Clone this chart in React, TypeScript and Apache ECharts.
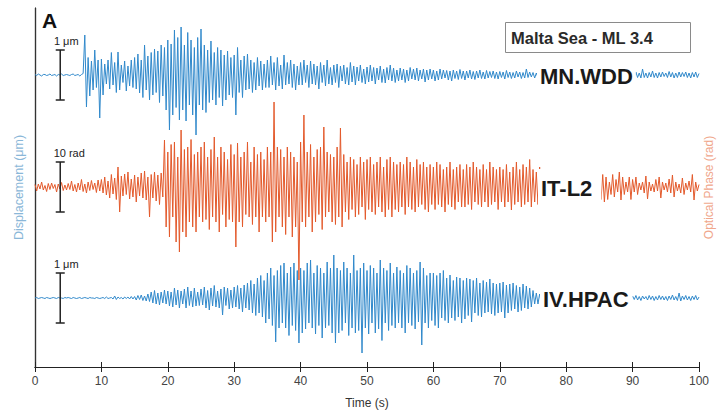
import React, { useEffect, useRef } from "react";
import * as echarts from "echarts";

// sample interval of the traces (s)
const DT = 0.25;

// MN.WDD displacement (μm), one row = 5 s
const wdd = [
  0.01,-0.01,0.02,0,-0.02,0.01,0.01,-0.01,0,0.02,-0.01,0,0.01,-0.02,0.01,0,0.02,-0.01,0,0.01,
  0,-0.01,0.01,0.02,-0.01,0,0.01,-0.02,0.01,0.03,0.8,-0.64,0.35,-0.42,0.28,-0.3,0.5,-0.25,0.3,-0.86,
  0.32,-0.4,0.22,-0.18,0.3,-0.28,0.45,-0.2,0.25,-0.35,0.46,-0.3,0.2,-0.15,0.28,-0.32,0.18,-0.22,0.3,-0.25,
  0.35,-0.28,0.42,-0.36,0.3,-0.45,0.6,-0.3,0.38,-0.5,0.45,-0.4,0.52,-0.35,0.48,-0.55,0.6,-0.42,0.55,-0.7,
  0.7,-1.1,0.62,-0.8,0.9,-0.65,0.75,-0.9,0.96,-0.7,0.6,-0.92,0.85,-0.6,0.7,-0.8,0.55,-1.2,0.75,-0.6,
  0.92,-0.7,0.6,-0.75,0.5,-0.55,0.68,-0.5,0.45,-0.6,0.55,-0.45,0.5,-0.62,0.4,-0.5,0.48,-0.4,0.35,-0.45,
  0.4,-0.8,0.55,-0.35,0.3,-0.45,0.38,-0.3,0.42,-0.28,0.3,-0.35,0.25,-0.3,0.35,-0.22,0.28,-0.3,0.22,-0.25,
  0.3,-0.25,0.38,-0.2,0.25,-0.3,0.35,-0.22,0.2,-0.28,0.4,-0.2,0.25,-0.18,0.3,-0.25,0.22,-0.3,0.18,-0.2,
  0.25,-0.2,0.3,-0.15,0.2,-0.25,0.28,-0.18,0.22,-0.2,0.18,-0.28,0.25,-0.15,0.2,-0.22,0.3,-0.18,0.15,-0.2,
  0.2,-0.15,0.22,-0.25,0.18,-0.12,0.2,-0.18,0.15,-0.2,0.25,-0.14,0.18,-0.2,0.16,-0.12,0.2,-0.15,0.12,-0.18,
  0.16,-0.14,0.2,-0.12,0.15,-0.18,0.14,-0.1,0.18,-0.15,0.12,-0.16,0.15,-0.1,0.2,-0.12,0.14,-0.15,0.1,-0.12,
  0.14,-0.1,0.12,-0.15,0.1,-0.12,0.15,-0.08,0.12,-0.1,0.14,-0.12,0.1,-0.08,0.12,-0.14,0.1,-0.1,0.12,-0.08,
  0.1,-0.12,0.08,-0.1,0.12,-0.08,0.1,-0.06,0.09,-0.1,0.08,-0.12,0.1,-0.07,0.08,-0.09,0.11,-0.07,0.08,-0.1,
  0.08,-0.06,0.1,-0.08,0.07,-0.09,0.08,-0.06,0.1,-0.07,0.06,-0.08,0.09,-0.06,0.07,-0.05,0.08,-0.07,0.06,-0.08,
  0.07,-0.05,0.06,-0.08,0.09,-0.05,0.06,-0.07,0.05,-0.06,0.08,-0.04,0.06,-0.07,0.05,-0.06,0.12,-0.05,0.06,-0.04,
  0.05,-0.06,0.04,-0.05,0.06,-0.04,0.05,-0.06,0.04,-0.05,0.06,-0.04,0.05,-0.03,0.04,-0.05,0.06,-0.04,0.03,-0.05,
  0.04,-0.05,0.06,-0.03,0.05,-0.04,0.03,-0.05,0.04,-0.06,0.05,-0.03,0.04,-0.05,0.03,-0.04,0.05,-0.03,0.04,-0.05,
  0.03,-0.04,0.05,-0.03,0.04,-0.05,0.03,-0.04,0.05,-0.03,0.04,-0.03,0.05,-0.04,0.03,-0.05,0.04,-0.03,0.05,-0.04,
  0.05,-0.04,0.06,-0.05,0.04,-0.06,0.12,-0.05,0.04,-0.06,0.05,-0.04,0.08,-0.05,0.04,-0.06,0.05,-0.04,0.06,-0.03,
  0.04,-0.05,0.07,-0.04,0.05,-0.06,0.04,-0.05,0.06,-0.04,0.05,-0.03,0.06,-0.05,0.04,-0.06,0.05,-0.04,0.06,-0.05,
  0.03,
];

// IT-L2 optical phase (rad), one row = 5 s
const itl2 = [
  0.5,-0.8,0.6,-0.4,1,-0.6,0.3,-0.9,0.7,-0.5,0.8,-0.3,0.5,-1,0.6,-0.4,0.9,-0.7,0.4,-0.6,
  0.7,-0.5,1.2,-0.8,0.5,-1,0.8,-0.6,1.5,-0.9,0.6,-1.2,1,-0.7,1.3,-0.5,0.8,-1.1,1.4,-0.8,
  1.5,-1.2,2,-1.6,1.2,-2.2,2.5,-1.4,1.8,-2.5,4,-5,2.2,-1.8,2.6,-1.5,3,-2.4,1.6,-2,
  2.4,-3,2,-1.8,2.8,-2.2,3.2,-2.6,2,-6,2.5,-2.2,3,-2.8,2.4,-3.5,2.8,-2,9.4,-8,
  7,-10,8.5,-6,9,-11,6,-13,11.4,-9,7.5,-10,8,-7,9.5,-8,6.5,-9,7,-6,
  8,-7,9,-6.5,6,-8.5,7.5,-6,10,-7,6,-9,8,-5.5,7,-8,5.5,-6.5,8.5,-7,
  6.5,-12,8.8,-7,6,-8,7,-5.5,9,-6,5,-7.5,8,-6,6.5,-9,7,-6,5.5,-7,
  8,-6,7,-11,17,-9,8,-6,7.5,-8,6,-9.5,8,-6,7,-10,6,-8,5,-18.6,
  9,-7,14.4,-8,7,-6,8.5,-9,6,-7,7.5,-5.5,8,-8.5,12,-6,7,-5,6.5,-7,
  6,-7.5,8,-6,11.8,-8,6.5,-5,5,-6.5,6,-4.5,5.5,-6,4.5,-5.5,6,-4,5,-6.5,
  5.5,-4.5,6,-5,4.5,-5.5,5,-4,6,-5,4,-6,5.5,-4.5,6,-6,5,-4.5,4.5,-5,
  5,-4,4.5,-5.5,6,-4,5,-4.5,4,-5,5.5,-4,4.5,-3.5,5,-4.5,4,-5,4.5,-3.5,
  4,-4.5,5,-3.5,4.5,-4,3.5,-5,4,-3.5,5,-4,3.5,-4.5,4,-3,4.5,-4,3.5,-4,
  4.5,-3.5,4,-4.5,5,-3,4,-3.5,3.5,-4,4.5,-3,3.5,-4,5,-3.5,4,-3,3.5,-4.5,
  4,-3,3.5,-4,4.5,-3,3,-4.6,4,-3.5,5,-3,3.5,-4,4.5,-3.5,4,-3,5.5,-4,
  3.5,-3,3,-3.5,4,-3,3,-2.5,3.5,-3,2.5,-3.5,3,-2.5,3.5,-3,2.5,-3,3,-2.5,
  3,-2.5,2.5,-3,3.5,-2.5,3,-2,2.5,-3,3,-2.5,2,-3,2.5,-2,3,-2.5,2.5,-2,
  3,-2.5,2.5,-3,2,-2.5,1,-1.5,2.5,-2,1.5,-1,3,-2.6,2,-1.5,1,-1,2,-2.5,
  1.5,-1,2,-1.5,0.8,-0.6,1,-1.2,2.2,-2.4,1,-0.8,0.6,-1,1.5,-0.8,2,-2.2,1,-0.6,
  0.8,-1,1.6,-1.2,2.4,-2,1,-0.8,0.6,-1.2,1.8,-1.5,0.8,-0.6,1.2,-1,2.5,-2.6,1,-0.8,
  0.5,
];

// IV.HPAC displacement (μm), one row = 5 s
const hpac = [
  0,0.01,-0.01,0,0.01,0,-0.01,0.01,0,-0.01,0,0.01,0,-0.01,0.01,0,0,-0.01,0.01,0,
  0.01,0,-0.01,0.01,0,-0.01,0,0.01,-0.01,0,0.01,0,-0.01,0.01,0,0,-0.01,0.01,0,-0.01,
  0,0.01,-0.01,0.02,-0.01,0,0.01,-0.02,0.04,-0.03,0.02,-0.01,0.01,-0.02,0.02,-0.01,0.02,-0.02,0.03,-0.02,
  0.03,-0.04,0.05,-0.03,0.06,-0.05,0.04,-0.06,0.08,-0.07,0.12,-0.1,0.15,-0.12,0.1,-0.14,0.12,-0.1,0.16,-0.12,
  0.14,-0.16,0.12,-0.18,0.2,-0.14,0.16,-0.2,0.14,-0.12,0.18,-0.2,0.22,-0.15,0.14,-0.18,0.2,-0.16,0.12,-0.15,
  0.18,-0.14,0.22,-0.2,0.15,-0.24,0.2,-0.16,0.25,-0.18,0.14,-0.2,0.18,-0.34,0.22,-0.15,0.2,-0.22,0.16,-0.2,
  0.22,-0.18,0.25,-0.22,0.2,-0.28,0.26,-0.2,0.3,-0.24,0.35,-0.3,0.28,-0.35,0.4,-0.3,0.45,-0.38,0.35,-0.5,
  0.5,-0.42,0.6,-0.55,0.45,-0.88,0.55,-0.6,0.65,-0.5,0.7,-0.6,0.5,-0.75,0.62,-0.55,0.7,-0.65,0.55,-0.9,
  0.6,-0.7,0.55,-0.62,0.7,-0.5,0.76,-0.6,0.5,-0.72,0.65,-0.55,0.6,-0.8,0.5,-0.6,0.72,-0.55,0.6,-0.7,
  0.86,-0.9,0.6,-0.7,0.55,-0.65,0.72,-0.5,0.6,-0.75,0.5,-0.6,0.86,-0.7,0.55,-0.65,0.6,-1.1,0.7,-0.6,
  0.55,-0.72,0.65,-0.5,0.6,-0.7,0.5,-0.62,0.76,-0.85,0.6,-0.5,0.55,-0.65,0.7,-0.55,0.5,-0.6,0.62,-0.5,
  0.55,-0.6,0.5,-0.7,0.65,-0.5,0.6,-0.55,0.5,-0.62,0.55,-0.48,0.72,-0.94,0.6,-0.5,0.45,-0.6,0.5,-0.45,
  0.5,-0.55,0.45,-0.6,0.5,-0.4,0.55,-0.45,0.4,-0.5,0.46,-0.4,0.35,-0.45,0.42,-0.38,0.4,-0.5,0.35,-0.42,
  0.4,-0.35,0.38,-0.48,0.35,-0.3,0.4,-0.35,0.3,-0.38,0.35,-0.3,0.32,-0.28,0.38,-0.32,0.3,-0.35,0.28,-0.3,
  0.3,-0.28,0.32,-0.4,0.26,-0.3,0.28,-0.25,0.3,-0.22,0.25,-0.28,0.22,-0.25,0.28,-0.2,0.24,-0.22,0.2,-0.18,
  0.15,-0.12,0.1,-0.12,0.08,-0.1,0.08,-0.06,0.07,-0.08,0.06,-0.05,0.07,-0.06,0.05,-0.06,0.05,-0.04,0.06,-0.05,
  0.05,-0.04,0.06,-0.05,0.04,-0.05,0.06,-0.04,0.05,-0.03,0.04,-0.05,0.05,-0.04,0.03,-0.04,0.05,-0.03,0.04,-0.05,
  0.04,-0.03,0.05,-0.04,0.03,-0.05,0.04,-0.03,0.05,-0.04,0.03,-0.04,0.05,-0.03,0.04,-0.05,0.03,-0.04,0.05,-0.03,
  0.04,-0.03,0.05,-0.04,0.03,-0.05,0.04,-0.02,0.03,-0.04,0.05,-0.03,0.04,-0.05,0.03,-0.04,0.05,-0.03,0.04,-0.04,
  0.03,-0.05,0.04,-0.03,0.06,-0.04,0.03,-0.05,0.1,-0.06,0.04,-0.03,0.05,-0.04,0.03,-0.05,0.04,-0.03,0.05,-0.04,
  0.02,
];

// trace baselines on their axes, and scale bars
const stations = ["MN.WDD", "IT-L2", "IV.HPAC"];
const baseWDD = 5.84; // μm axis
const baseL2 = 36; // rad axis
const baseHPAC = 1.38; // μm axis
const scaleBarTime = 3.8;
const scaleBarLabels = ["1 μm", "10 rad", "1 μm"];
const scaleBarSizes = [1, 10, 1];
const title = "Malta Sea - ML 3.4";

const BLUE = "#3189cb";
const ORANGE = "#e35a2c";
const FONT = '"Liberation Sans", Arial, Helvetica, sans-serif';

export default function App() {
  const ref = useRef<HTMLDivElement>(null);
  useEffect(() => {
    const chart = echarts.init(ref.current!, null, { renderer: "svg" });
    const trace = (arr: number[], base: number) =>
      arr.map((v, i) => [i * DT, v + base]);
    const bar = (base: number, size: number, label: string, off: number) => [
      [scaleBarTime, base - size / 2],
      {
        value: [scaleBarTime, base + size / 2],
        label: {
          show: true,
          position: "top",
          distance: 3,
          offset: [off, 0],
          formatter: label,
          fontSize: 11,
          color: "#222",
          fontFamily: FONT,
        },
      },
    ];
    const traceSeries = (name: string, data: any[], color: string, yi: number) => ({
      type: "line",
      name,
      yAxisIndex: yi,
      data,
      showSymbol: false,
      symbol: "none",
      lineStyle: { color, width: 1 },
      z: 2,
      silent: true,
    });
    const barSeries = (data: any[], yi: number) => ({
      type: "line",
      yAxisIndex: yi,
      data,
      symbol: "rect",
      symbolSize: [9, 1.5],
      showSymbol: true,
      itemStyle: { color: "#222" },
      lineStyle: { color: "#222", width: 1.5 },
      z: 5,
      silent: true,
    });
    const stationText = (text: string, x: number, y: number, padding: number[]) => ({
      type: "text",
      x,
      y,
      z: 20,
      style: {
        text,
        font: `bold 22px ${FONT}`,
        fill: "#1a1a1a",
        backgroundColor: "#ffffff",
        padding,
        verticalAlign: "middle",
        align: "left",
      },
    });

    chart.setOption({
      animation: false,
      backgroundColor: "#ffffff",
      textStyle: { fontFamily: FONT },
      grid: { left: 35, right: 19, top: 8, bottom: 45, outerBoundsMode: "none", containLabel: false },
      xAxis: [
        {
          type: "value",
          min: 0,
          max: 100,
          interval: 10,
          name: "Time (s)",
          nameLocation: "middle",
          nameGap: 30,
          nameTextStyle: { fontSize: 12, color: "#333" },
          axisLine: { show: true, lineStyle: { color: "#222", width: 1.2 } },
          axisTick: { show: true, inside: true, length: 5, lineStyle: { color: "#222" } },
          axisLabel: { fontSize: 12, color: "#444", margin: 8 },
          splitLine: { show: false },
        },
        {
          type: "value",
          position: "top",
          min: 0,
          max: 100,
          interval: 10,
          axisLine: { show: true, lineStyle: { color: "#222", width: 1.2 } },
          axisTick: { show: true, inside: true, length: 5, lineStyle: { color: "#222" } },
          axisLabel: { show: false },
          splitLine: { show: false },
        },
      ],
      yAxis: [
        {
          type: "value",
          min: 0,
          max: 7.18,
          name: "Displacement (μm)",
          nameLocation: "middle",
          nameGap: 10,
          nameRotate: 90,
          nameTextStyle: { fontSize: 12.5, color: "#8ab7d8" },
          axisLine: { show: true, lineStyle: { color: "#444", width: 1.2 } },
          axisTick: { show: false },
          axisLabel: { show: false },
          splitLine: { show: false },
        },
        {
          type: "value",
          min: 0,
          max: 71.8,
          position: "right",
          name: "Optical Phase (rad)",
          nameLocation: "middle",
          nameGap: 4,
          nameRotate: 90,
          nameTextStyle: { fontSize: 12, color: "#f0a78c" },
          axisLine: { show: true, lineStyle: { color: "#333", width: 1.2 } },
          axisTick: { show: false },
          axisLabel: { show: false },
          splitLine: { show: false },
        },
      ],
      series: [
        traceSeries(stations[0], trace(wdd, baseWDD), BLUE, 0),
        traceSeries(stations[2], trace(hpac, baseHPAC), BLUE, 0),
        traceSeries(stations[1], trace(itl2, baseL2), ORANGE, 1),
        barSeries(bar(baseWDD, scaleBarSizes[0], scaleBarLabels[0], 6), 0),
        barSeries(bar(baseL2, scaleBarSizes[1], scaleBarLabels[1], 9), 1),
        barSeries(bar(baseHPAC, scaleBarSizes[2], scaleBarLabels[2], 6), 0),
      ],
      graphic: [
        {
          type: "text",
          x: 42,
          y: 20,
          z: 20,
          style: { text: "A", font: `bold 21px ${FONT}`, fill: "#111", verticalAlign: "middle" },
        },
        {
          type: "rect",
          z: 19,
          shape: { x: 505.5, y: 22.5, width: 185, height: 30 },
          style: { fill: "#ffffff", stroke: "#8a8a8a", lineWidth: 1 },
        },
        {
          type: "text",
          x: 511,
          y: 38,
          z: 20,
          style: { text: title, font: `bold 16.5px ${FONT}`, fill: "#2a2a2a", verticalAlign: "middle" },
        },
        stationText(stations[0], 537, 76, [6, 3, 6, 3]),
        stationText(stations[1], 538, 188, [8, 9, 8, 3]),
        stationText(stations[2], 540, 299, [8, 4, 8, 3]),
      ],
    });
    return () => chart.dispose();
  }, []);
  return (
    <div
      ref={ref}
      style={{ position: "fixed", left: 0, top: 0, width: 718, height: 412, background: "#fff" }}
    />
  );
}
